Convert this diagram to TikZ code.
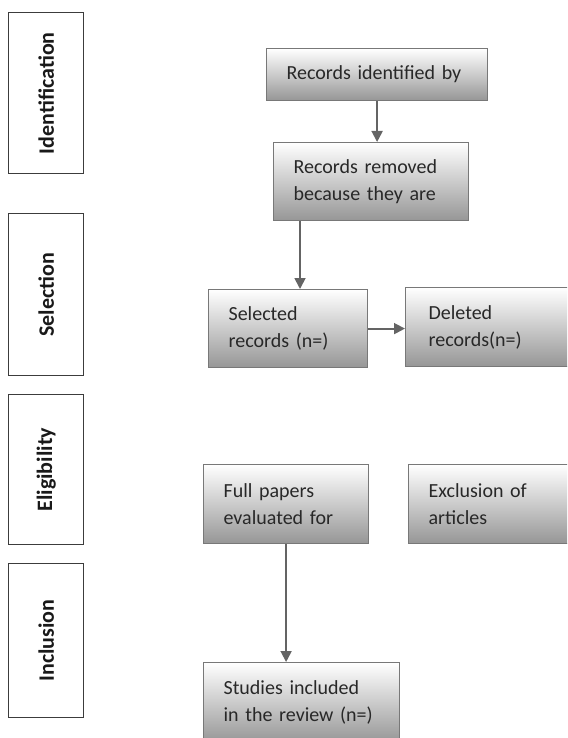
\documentclass[tikz,border=0pt]{standalone}
\usepackage{fontspec}
\setmainfont{Carlito}
\usepackage{xcolor}
\usepackage{tikz}
\usetikzlibrary{arrows.meta,positioning,calc}
\definecolor{boxgray}{RGB}{120,120,120}
\definecolor{arrowgray}{RGB}{100,100,100}
\definecolor{shadegray}{RGB}{150,150,150}
\definecolor{midgray}{RGB}{215,215,215}
\definecolor{textgray}{RGB}{40,40,40}
\definecolor{stageline}{RGB}{60,60,60}
\tikzset{
  stagebox/.style={draw=stageline, line width=1.4pt, fill=white, anchor=north west,
    minimum width=75pt, inner sep=0pt},
  stagelabel/.style={rotate=90, font=\fontsize{22}{26}\selectfont\bfseries, text=black!90},
  flowbox/.style={draw=boxgray, line width=1.2pt, anchor=north west, align=left,
    top color=white, middle color=midgray, bottom color=shadegray,
    inner xsep=20pt, inner ysep=0pt, text=textgray,
    font=\fontsize{20}{27}\selectfont},
  flow/.style={-{Triangle[length=11pt,width=11pt]}, line width=1.8pt, draw=arrowgray}
}

\begin{document}
\begin{tikzpicture}[x=1pt, y=-1pt]
\useasboundingbox (0,0) rectangle (567,738);
\clip (0,0) rectangle (567,738);

% stages on the left
\node[stagebox, minimum height=161pt] (sid) at (8,12) {};
\node[stagelabel] at (sid.center) {Identification};
\node[stagebox, minimum height=162pt] (ssel) at (8,213) {};
\node[stagelabel] at (ssel.center) {Selection};
\node[stagebox, minimum height=150pt] (selig) at (8,394) {};
\node[stagelabel] at (selig.center) {Eligibility};
\node[stagebox, minimum height=154pt] (sinc) at (8,563) {};
\node[stagelabel] at (sinc.center) {Inclusion};

% flow boxes
\node[flowbox, text width=181pt, minimum height=52pt] (idrec) at (266,48) {Records identified by};
\node[flowbox, text width=155pt, minimum height=78pt] (rmrec) at (273,142) {Records removed\\because they are};
\node[flowbox, text width=119pt, minimum height=78pt] (selrec) at (208,289) {Selected\\records (n=)};
\node[flowbox, text width=127pt, minimum height=79pt, inner xsep=23pt] (delrec) at (405,287) {Deleted\\records(n=)};
\node[flowbox, text width=125pt, minimum height=79pt] (fullrec) at (203,464) {Full papers\\evaluated for};
\node[flowbox, text width=130pt, minimum height=79pt] (exclrec) at (408,464) {Exclusion of\\articles};
\node[flowbox, text width=156pt, minimum height=80pt] (studrec) at (203,662) {Studies included\\in the review (n=)};

% arrows
\draw[flow] (idrec.south) -- (idrec.south |- rmrec.north);
\draw[flow] ([xshift=27pt]rmrec.south west) -- ([xshift=27pt]rmrec.south west |- selrec.north);
\draw[flow] (selrec.east) -- (selrec.east -| delrec.west);
\draw[flow] (fullrec.south) -- (fullrec.south |- studrec.north);
\end{tikzpicture}
\end{document}
